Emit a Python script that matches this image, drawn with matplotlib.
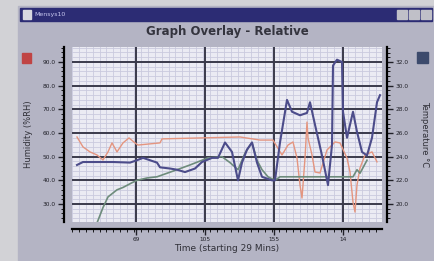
import numpy as np
import matplotlib
matplotlib.use("Agg")
import matplotlib.pyplot as plt
from matplotlib.patches import Rectangle
from matplotlib.ticker import MultipleLocator

# humidity (left axis), time in minutes from start
hum_t = [5, 11, 18, 25, 31, 36, 40, 45, 51, 57, 63, 66, 88, 90, 128, 168, 188, 201,
         210, 216, 221, 225, 228, 230, 233, 235, 236, 240, 243, 248, 255, 263, 268,
         275, 278, 281, 283, 285, 288, 293, 300, 305]
hum = [58.3, 54.1, 52.0, 50.7, 48.6, 52.0, 55.8, 52.0, 55.8, 57.9, 55.8, 54.9, 55.8,
       57.5, 57.9, 58.3, 57.0, 57.0, 50.7, 54.9, 56.2, 49.4, 38.0, 32.5, 49.4, 64.6,
       57.9, 50.7, 43.5, 43.1, 52.8, 56.2, 55.8, 49.4, 43.5, 30.8, 26.6, 38.0, 45.2,
       50.7, 52.0, 47.8]

# temperature 1 (right axis)
t1_t = [5, 11, 25, 41, 58, 65, 71, 85, 88, 98, 105, 113, 123, 130, 140, 146, 153, 160,
        166, 170, 175, 180, 185, 190, 200, 203, 208, 215, 220, 228, 235, 238, 243, 250,
        256, 260, 261, 265, 270, 271, 275, 278, 281, 285, 290, 295, 300, 305, 308]
t1 = [23.3, 23.55, 23.55, 23.55, 23.5, 23.7, 23.9, 23.5, 23.1, 23.0, 22.9, 22.7, 23.0,
      23.55, 23.9, 23.9, 25.2, 24.4, 22.0, 23.5, 24.6, 25.2, 23.5, 22.3, 22.0, 22.0,
      25.2, 28.8, 27.8, 27.5, 27.7, 28.6, 26.7, 24.1, 21.6, 25.0, 31.7, 32.2, 32.0,
      27.8, 25.6, 26.7, 27.8, 26.1, 24.4, 24.1, 25.6, 28.6, 29.2]

# temperature 2 (right axis)
t2_t = [25, 31, 36, 45, 51, 60, 65, 75, 85, 95, 105, 118, 136, 150, 158, 166, 173, 180,
        185, 190, 196, 203, 208, 255, 281, 285, 288, 295]
t2 = [18.4, 19.7, 20.6, 21.2, 21.4, 21.8, 22.0, 22.2, 22.3, 22.6, 22.9, 23.3, 23.9,
      24.0, 23.5, 22.9, 24.3, 25.2, 23.7, 22.9, 22.3, 22.0, 22.3, 22.3, 22.3, 22.9,
      22.6, 23.7]

x_ticks = [64, 133, 202, 271]
x_labels = ["69", "105", "155", "14"]
hum_ticks = [30, 40, 50, 60, 70, 80, 90]
temp_ticks = [20, 22, 24, 26, 28, 30, 32]

fig = plt.figure(figsize=(4.35, 2.61), dpi=100)
fig.patch.set_facecolor("#d2d2d6")

def box(x, y, w, h, c, z=-1):
    # rectangle in pixel coords (top-left origin)
    fig.patches.append(Rectangle((x/435, 1 - (y + h)/261), w/435, h/261,
                                 transform=fig.transFigure, color=c, zorder=z))

# window body and title bar
box(18, 6, 420, 260, "#b4b4c4", -2)
box(20, 8, 412, 13, "#2c2c74")
box(23, 10, 8, 9, "#d8d8e0")
for bx in [397, 409, 421]:
    box(bx, 10, 10, 9, "#c0c0c8")
box(22, 53, 9, 10, "#c04444")
box(417, 52, 11, 11, "#3c4a6c")
fig.text(34/435, 1 - 14.5/261, "Mensys10", color="#c8c8f0", fontsize=4.5, va="center")

fig.text(227/435, 1 - 32/261, "Graph Overlay - Relative", ha="center", va="center",
         fontsize=8.5, fontweight="bold", color="#34343e")

ax = fig.add_axes([72/435, 1 - 222/261, 310/435, 175/261])
ax.set_facecolor("#ebebf3")
ax2 = ax.twinx()

ax.set_xlim(0, 310)
ax.set_ylim(22.4, 96.3)
ax2.set_ylim(18.48, 33.27)

# light minor grid, dark major grid on top of it
ax.xaxis.set_minor_locator(MultipleLocator(6.9))
ax.yaxis.set_minor_locator(MultipleLocator(2))
ax.grid(which="minor", color="#cacade", lw=0.6)
ax.set_axisbelow(True)
ax.set_xticks(x_ticks)
ax.set_xticklabels(x_labels)
ax.set_yticks(hum_ticks)
ax.set_yticklabels([f"{v:.1f}" for v in hum_ticks])
for v in x_ticks:
    ax.axvline(v, color="#3a3a4a", lw=1.4, zorder=1.5)
for v in hum_ticks:
    ax.axhline(v, color="#3a3a4a", lw=1.4, zorder=1.5)

ax2.set_yticks(temp_ticks)
ax2.set_yticklabels([f"{v:.1f}" for v in temp_ticks])
ax2.yaxis.set_minor_locator(MultipleLocator(0.4))

ax.plot(hum_t, hum, color="#e4957f", lw=1.0, zorder=3)
ax2.plot(t2_t, t2, color="#6e8c7c", lw=1.2, zorder=3)
ax2.plot(t1_t, t1, color="#4c4c8a", lw=1.5, zorder=4)

for a in (ax, ax2):
    for s in a.spines.values():
        s.set_visible(False)
ax.spines["left"].set_visible(True)
ax.spines["left"].set_position(("outward", 5.8))
ax.spines["left"].set_linewidth(1.6)
ax.spines["bottom"].set_visible(True)
ax.spines["bottom"].set_position(("outward", 5))
ax.spines["bottom"].set_linewidth(1.6)
ax2.spines["right"].set_visible(True)
ax2.spines["right"].set_position(("outward", 3.6))
ax2.spines["right"].set_linewidth(1.6)

ax.tick_params(axis="y", which="major", labelsize=4.2, length=4, width=1, pad=2, colors="#202028")
ax.tick_params(axis="y", which="minor", length=2, width=0.6)
ax.tick_params(axis="x", which="major", labelsize=4.2, length=4, width=1, pad=2, colors="#202028")
ax.tick_params(axis="x", which="minor", length=2, width=0.6)
ax2.tick_params(axis="y", which="major", labelsize=4.2, length=4, width=1, pad=2, colors="#202028")
ax2.tick_params(axis="y", which="minor", length=2, width=0.6)

ax.set_ylabel("Humidity (%RH)", fontsize=6, color="#303038", labelpad=7)
ax2.set_ylabel("Temperature \u00b0C", fontsize=6, color="#303038", rotation=270, labelpad=15)
ax.set_xlabel("Time (starting 29 Mins)", fontsize=6.5, color="#303038", labelpad=1)

fig.savefig("out.png", dpi=100, facecolor=fig.get_facecolor())
